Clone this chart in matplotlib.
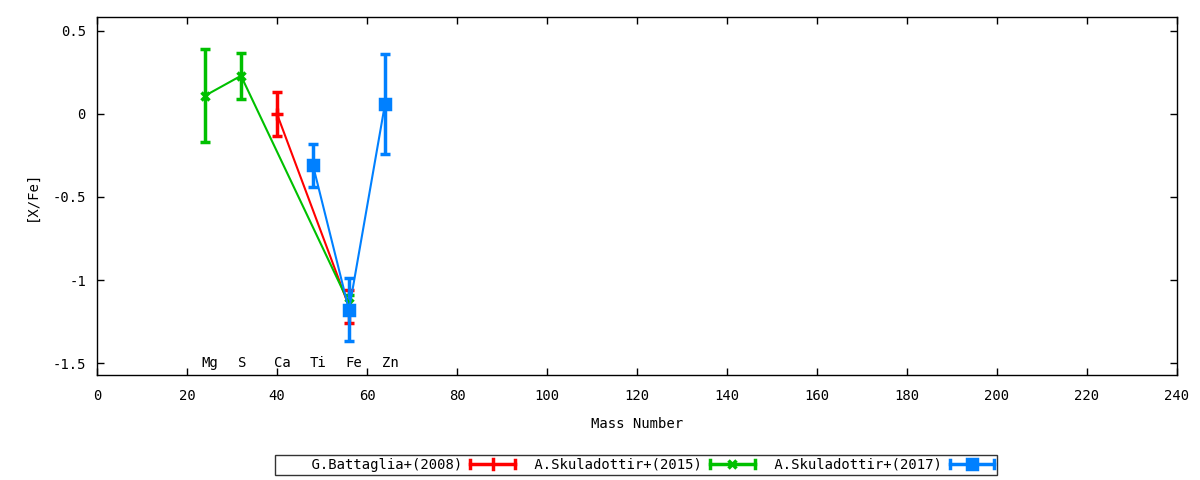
import matplotlib
matplotlib.use("Agg")
import matplotlib.pyplot as plt
from matplotlib.lines import Line2D
from matplotlib.legend_handler import HandlerBase

# Data
elements = ["Mg", "S", "Ca", "Ti", "Fe", "Zn"]
element_mass = [24, 32, 40, 48, 56, 64]

battaglia_mass = [40, 56]
battaglia_val = [0.0, -1.16]
battaglia_err = [0.13, 0.10]

sk2015_mass = [24, 32, 56]
sk2015_val = [0.11, 0.23, -1.14]
sk2015_err = [0.28, 0.14, 0.05]

sk2017_mass = [48, 56, 64]
sk2017_val = [-0.31, -1.18, 0.06]
sk2017_err = [0.13, 0.19, 0.30]

labels = ["G.Battaglia+(2008)", "A.Skuladottir+(2015)", "A.Skuladottir+(2017)"]
label_pad = ["    ", " ", " "]
colors = ["#ff0000", "#00c000", "#0080ff"]

plt.rcParams['font.family'] = ['DejaVu Sans Mono']
plt.rcParams['font.size'] = 10

fig = plt.figure(figsize=(12, 4.8), dpi=100)
ax = fig.add_axes([97/1200, 1-375/480, (1177-97)/1200, (375-17)/480])

series = [
    (battaglia_mass, battaglia_val, battaglia_err, '+', 9),
    (sk2015_mass, sk2015_val, sk2015_err, 'x', 6),
    (sk2017_mass, sk2017_val, sk2017_err, 's', 7),
]
proxies = []
for (m, v, e, mk, ms), lab, c in zip(series, labels, colors):
    ax.errorbar(m, v, yerr=e, color=c, lw=1.5, elinewidth=2.5,
                capsize=3.5, capthick=2.5, marker=mk, markersize=ms,
                markeredgewidth=2.5)
    proxies.append(Line2D([], [], color=c, marker=mk, markersize=ms,
                          markeredgewidth=2.5))


class ErrHandler(HandlerBase):
    def create_artists(self, legend, orig_handle, xdescent, ydescent,
                       width, height, fontsize, trans):
        c = orig_handle.get_color()
        mk = orig_handle.get_marker()
        ms = orig_handle.get_markersize()
        y = height / 2 - ydescent
        x0 = -xdescent
        x1 = x0 + width
        xm = (x0 + x1) / 2
        h = 3.0
        arts = [
            Line2D([x0, x1], [y, y], color=c, lw=2.5),
            Line2D([x0, x0], [y - h, y + h], color=c, lw=2.5),
            Line2D([x1, x1], [y - h, y + h], color=c, lw=2.5),
        ]
        if mk == '+':
            arts.append(Line2D([xm, xm], [y - 3.5, y + 3.5], color=c, lw=2.5))
        else:
            arts.append(Line2D([xm], [y], color=c, marker=mk, markersize=ms,
                               markeredgewidth=2.5, linestyle='none'))
        for a in arts:
            a.set_transform(trans)
        return arts


for el, m in zip(elements, element_mass):
    ax.text(m - 0.7, -1.5, el, ha='left', va='center', fontsize=10)

ax.set_xlim(0, 240)
ax.set_ylim(-1.572, 0.584)
ax.set_xticks(range(0, 241, 20))
ax.set_yticks([-1.5, -1, -0.5, 0, 0.5])
ax.set_yticklabels(["-1.5", "-1", "-0.5", "0", "0.5"])
ax.tick_params(direction='in', top=True, right=True, length=5, width=1,
               labelsize=10, pad=8)
ax.tick_params(axis='x', pad=10)
for s in ax.spines.values():
    s.set_linewidth(1)
ax.set_xlabel("Mass Number", fontsize=10, labelpad=10.5)
ax.set_ylabel("[X/Fe]", fontsize=10, labelpad=10)

leg = fig.legend(handles=proxies,
                 labels=[p + l for p, l in zip(label_pad, labels)],
                 handler_map={Line2D: ErrHandler()}, loc='center',
                 bbox_to_anchor=(636/1200, 1-465/480), ncol=3,
                 markerfirst=False, frameon=True, fancybox=False,
                 edgecolor='black', handlelength=3.2, columnspacing=0.8,
                 borderpad=0.2, borderaxespad=0, handletextpad=0.6,
                 fontsize=10)
leg.get_frame().set_linewidth(1)

fig.savefig("out.png", dpi=100)
